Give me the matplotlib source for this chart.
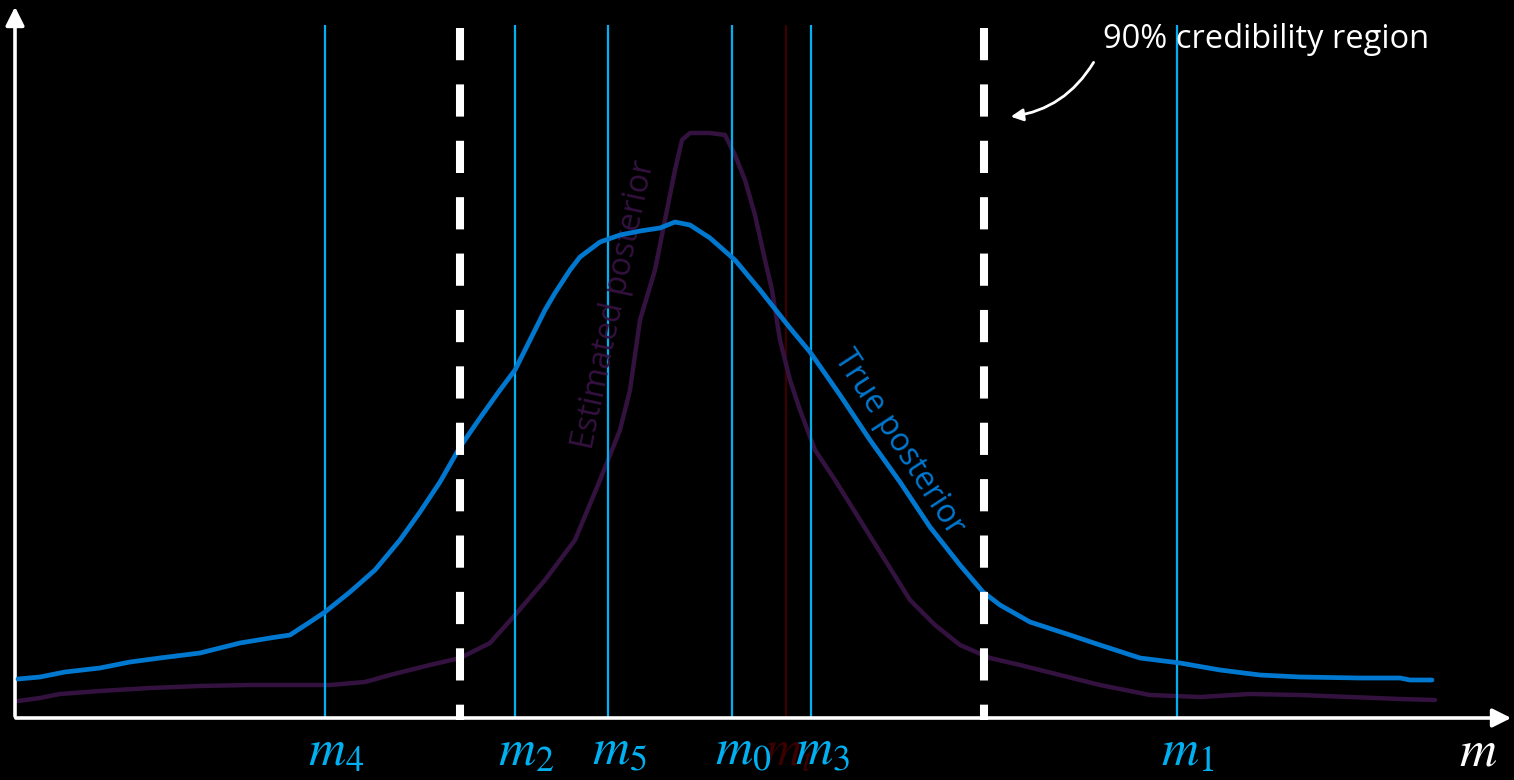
import numpy as np
import matplotlib.pyplot as plt
from matplotlib.patches import FancyArrowPatch

# axis baseline sits at pixel row 718, heights are measured upward from it
BASE = 718

# true posterior (x, pixel row)
true_x = [18, 40, 65, 100, 130, 160, 200, 240, 270, 290, 310, 325, 350, 375, 400, 420,
          440, 460, 480, 500, 515, 530, 545, 555, 570, 580, 600, 620, 640, 660, 675, 690, 710,
          735, 760, 790, 810, 840, 870, 900, 930, 960, 983, 1000, 1030, 1070, 1100,
          1140, 1180, 1220, 1260, 1300, 1360, 1400, 1410, 1432]
true_row = [679, 677, 672, 668, 662, 658, 653, 643, 638, 635, 622, 612, 592, 570, 540, 512,
            482, 447, 418, 390, 370, 340, 310, 293, 270, 257, 242, 235, 231, 228, 222, 225, 238,
            260, 290, 328, 352, 395, 440, 482, 527, 565, 592, 605, 622, 635, 645,
            658, 663, 670, 675, 677, 678, 678, 680, 680]

# estimated posterior
est_x = [18, 40, 60, 100, 150, 200, 250, 300, 330, 365, 390, 430, 460, 490, 515, 545,
         575, 600, 620, 630, 640, 655, 665, 675, 682, 690, 710, 725, 735, 745, 755,
         765, 772, 780, 790, 800, 815, 835, 860, 885, 910, 935, 960, 990, 1020, 1060,
         1100, 1150, 1200, 1250, 1300, 1350, 1400, 1435]
est_row = [701, 698, 694, 691, 688, 686, 685, 685, 685, 682, 675, 665, 658, 643, 615, 580,
           540, 480, 430, 390, 320, 270, 220, 170, 140, 133, 133, 135, 155, 180, 215,
           260, 290, 340, 380, 410, 450, 480, 520, 560, 600, 625, 645, 658, 665, 675,
           685, 695, 697, 694, 695, 697, 699, 700]

sample_names = ["$m_4$", "$m_2$", "$m_5$", "$m_0$", "$m_3$", "$m_1$"]
sample_pos = [325, 515, 608, 732, 811, 1177]
true_m = 786
cred_bounds = [460, 984]

CYAN = "#00B0F0"
BLUE = "#0078D0"
PURPLE = "#34123F"
DARKRED = "#3C0000"

plt.rcParams["mathtext.fontset"] = "stix"

fig = plt.figure(figsize=(15.14, 7.8), dpi=100, facecolor="black")
ax = fig.add_axes([0, 0, 1, 1])
ax.set_facecolor("black")
ax.set_xlim(0, 1514)
ax.set_ylim(BASE - 780, BASE)
ax.axis("off")

true_h = BASE - np.array(true_row)
est_h = BASE - np.array(est_row)

ax.plot(est_x, est_h, color=PURPLE, lw=3.2, solid_capstyle="round",
        solid_joinstyle="round", zorder=2)
ax.plot(true_x, true_h, color=BLUE, lw=3.4, solid_capstyle="round",
        solid_joinstyle="round", zorder=4)

# sampled points and true value
ax.vlines(sample_pos, 0, BASE - 25, color=CYAN, lw=1.6, zorder=3)
ax.vlines(true_m, 0, BASE - 25, color=DARKRED, lw=1.6, zorder=1)

for x in cred_bounds:
    ax.plot([x, x], [BASE - 28, -2], color="white", lw=5.8,
            linestyle=(0, (4.0, 3.0)), solid_capstyle="butt", zorder=5)

LAB_Y = -47
for name, x in zip(sample_names, sample_pos):
    ax.text(x + 11, LAB_Y, name, color=CYAN, fontsize=37, ha="center", va="baseline", zorder=6)
ax.text(true_m + 3, LAB_Y, "$m_t$", color=DARKRED, fontsize=37, ha="center", va="baseline", zorder=5)
ax.text(1478, LAB_Y, "$m$", color="white", fontsize=37, ha="center", va="baseline")

# axes with arrow heads
ax.annotate("", xy=(1514, 0), xytext=(13, 0),
            arrowprops=dict(arrowstyle="-|>", color="white", lw=2.6, mutation_scale=28))
ax.annotate("", xy=(15, BASE - 4), xytext=(15, -1),
            arrowprops=dict(arrowstyle="-|>", color="white", lw=2.6, mutation_scale=28))

# curve labels
ax.text(614, BASE - 305, "Estimated posterior", color=PURPLE, fontsize=23,
        family="Open Sans", rotation=78, ha="center", va="center")
ax.text(899, BASE - 443, "True posterior", color=BLUE, fontsize=23,
        family="Open Sans", rotation=-57, ha="center", va="center")

ax.text(1266, BASE - 39, "90% credibility region", color="white", fontsize=23.5,
        family="Open Sans", ha="center", va="center")
ax.add_patch(FancyArrowPatch((1095, BASE - 60), (1008, BASE - 117),
                             connectionstyle="arc3,rad=-0.25", arrowstyle="-|>",
                             color="white", lw=2, mutation_scale=18))

fig.savefig("out.png", dpi=100, facecolor="black")
